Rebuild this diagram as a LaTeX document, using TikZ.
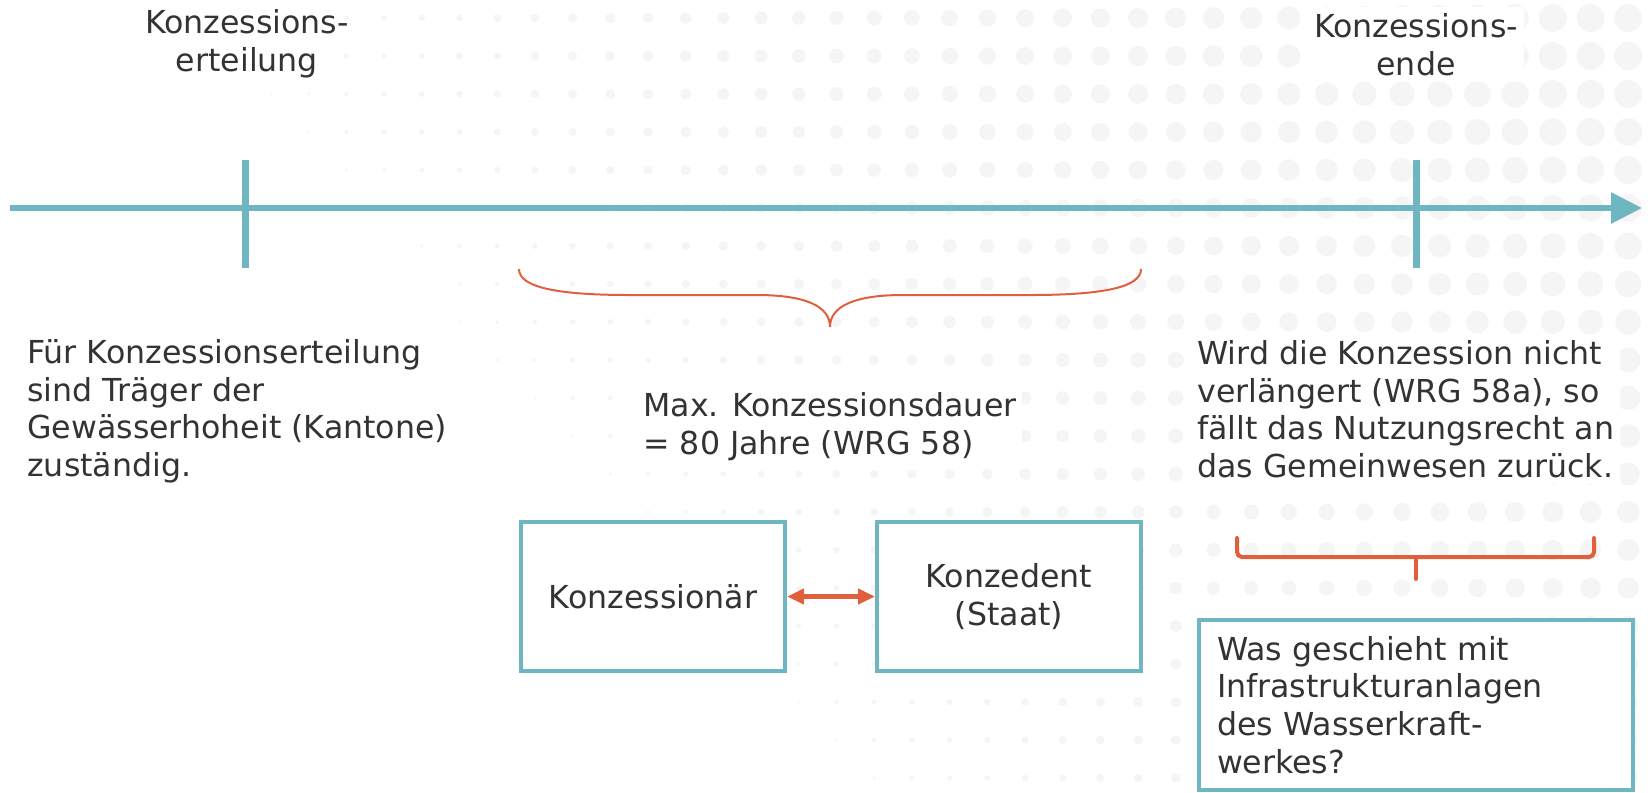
\documentclass[tikz,border=0pt]{standalone}
\usepackage{fontspec}
\setmainfont{DejaVu Sans}
\usetikzlibrary{arrows.meta}
\definecolor{konzTeal}{HTML}{6EB7C1}
\definecolor{konzRot}{HTML}{E0603E}
\definecolor{konzGrau}{HTML}{333333}
\definecolor{konzPunkt}{HTML}{F5F5F5}
\tikzset{
  konzFont/.style={font=\fontsize{18pt}{21.5pt}\selectfont, text=konzGrau},
  konzLabel/.style={konzFont, align=left, inner sep=0.12cm, fill=white},
  konzBox/.style={konzFont, draw=konzTeal, line width=0.08cm, fill=white, align=center, minimum width=5.28cm, minimum height=2.98cm, inner sep=0pt},
  konzAxis/.style={konzTeal, line width=0.12cm, -{Triangle[length=0.62cm,width=0.6cm]}},
  konzTick/.style={konzTeal, line width=0.14cm},
  konzPfeil/.style={konzRot, line width=0.1cm, {Triangle[length=0.34cm,width=0.3cm]}-{Triangle[length=0.34cm,width=0.3cm]}},
  konzKlammer/.style={konzRot, line width=0.08cm, rounded corners=0.1cm, line cap=round},
  konzBogen/.style={konzRot, line width=0.04cm}
}

\begin{document}
\begin{tikzpicture}[x=0.02cm,y=-0.02cm]
\useasboundingbox (0,0) rectangle (1648,792);
\foreach \i in {0,...,36}{
  \foreach \j in {0,...,20}{
    \pgfmathsetmacro\ptX{271+37.7*\i}
    \pgfmathsetmacro\ptY{18+38*\j}
    \pgfmathsetmacro\ptS{\ptX-250-0.85*max(0,\ptY-80)}
    \ifdim\ptS pt>0pt
      \pgfmathsetmacro\ptR{min(14,0.0097*\ptS+1.5)}
      \fill[konzPunkt] (\ptX,\ptY) circle[radius=\ptR];
    \fi
  }
}
\coordinate (axL) at (10,208);
\coordinate (axR) at (1642,208);
\coordinate (tStart) at (245.7,208);
\coordinate (tEnde) at (1416,208);
\draw[konzAxis] (axL) -- (axR);
\draw[konzTick] (tStart) ++(0,-48) -- ++(0,108);
\draw[konzTick] (tEnde) ++(0,-48) -- ++(0,108);
\node[konzLabel, align=center, anchor=north, fill=none] (lblStart) at (247,3) {Konzessions-\\erteilung};
\node[konzLabel, align=center, anchor=north] (lblEnde) at (1416,7) {Konzessions-\\ende};
\draw[konzBogen] (519,269) .. controls (519,288) and (560,295) .. (630,295) -- (757,295) .. controls (805,295) and (830,306) .. (830,327) .. controls (830,306) and (855,295) .. (903,295) -- (1030,295) .. controls (1100,295) and (1141,288) .. (1141,269);
\node[konzLabel, anchor=north west, fill=none] (lblTraeger) at (21,333) {Für Konzessionserteilung\\sind Träger der\\Gewässerhoheit (Kantone)\\zuständig.};
\node[konzLabel, anchor=north west] (lblDauer) at (637,386) {Max. Konzessionsdauer\\= 80 Jahre (WRG 58)};
\node[konzLabel, anchor=north west] (lblRueck) at (1191,334) {Wird die Konzession nicht\\verlängert (WRG 58a), so\\fällt das Nutzungsrecht an\\das Gemeinwesen zurück.};
\node[konzBox] (konzionaer) at (653,596.5) {Konzessionär};
\node[konzBox] (konzedent) at (1009,596.5) {Konzedent\\(Staat)};
\draw[konzPfeil] (konzionaer.east) -- (konzedent.west);
\draw[konzKlammer] (1237,538) -- (1237,557) -- (1594,557) -- (1594,538);
\draw[konzKlammer, rounded corners=0pt] (1416,557) -- (1416,579);
\node[konzBox, anchor=north west, align=left, text width=7.96cm, inner xsep=0.36cm, inner ysep=0.32cm, minimum width=0cm, minimum height=3.36cm] (frage) at (1197,618) {Was geschieht mit\\Infrastrukturanlagen\\des Wasserkraft-\\werkes?};
\end{tikzpicture}
\end{document}
